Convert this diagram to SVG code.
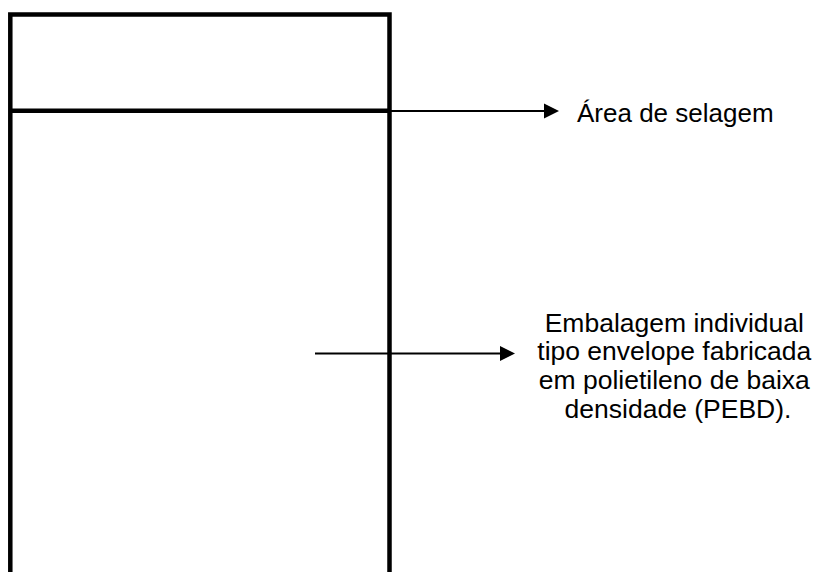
<svg xmlns="http://www.w3.org/2000/svg" width="820" height="572" viewBox="0 0 820 572">
  <style>
    .box { fill: none; stroke: #000; stroke-width: 4.5; }
    .conn { stroke: #000; stroke-width: 2; fill: none; }
    .head { fill: #000; }
    .lbl { font-family: "Liberation Sans", Arial, sans-serif; font-size: 26px; fill: #000; }
    .blk { font-size: 26.5px; }
  </style>
  <rect width="820" height="572" fill="#fff"/>
  <g id="envelope">
    <path class="box" d="M10.3,580 V14.5 H389.5 V580"/>
    <line class="box" x1="10.3" y1="110.8" x2="389.5" y2="110.8"/>
  </g>
  <g id="connectors">
    <line class="conn" x1="384" y1="111" x2="545" y2="111"/>
    <polygon class="head" points="544,103.5 559,111 544,118.5"/>
    <line class="conn" x1="315" y1="353.5" x2="501" y2="353.5"/>
    <polygon class="head" points="500,346 515,353.5 500,361"/>
  </g>
  <g id="label-selagem">
    <text class="lbl" x="577" y="121.5">Área de selagem</text>
  </g>
  <g id="label-embalagem">
    <text class="lbl blk" text-anchor="middle">
      <tspan x="678" y="331.5">Embalagem individual</tspan>
      <tspan x="678" y="360.3">tipo envelope fabricada</tspan>
      <tspan x="678" y="389.1">em polietileno de baixa</tspan>
      <tspan x="678" y="418">densidade (PEBD).</tspan>
    </text>
  </g>
</svg>
